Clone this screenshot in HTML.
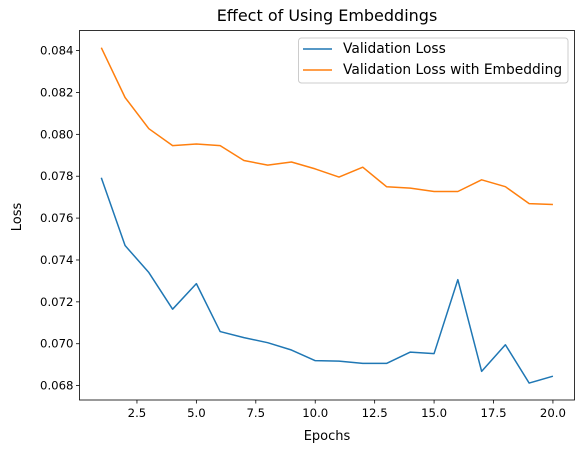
<!DOCTYPE html>
<html><head><meta charset="utf-8"><style>
body{margin:0;background:#fff;font-family:"Liberation Sans","DejaVu Sans",sans-serif}
svg text{font-family:"DejaVu Sans","Liberation Sans",sans-serif}
</style></head><body>
<svg id="chart" width="585" height="453" xmlns="http://www.w3.org/2000/svg">
<rect width="585" height="453" fill="#fff"/>
<text x="327" y="21" text-anchor="middle" font-size="16">Effect of Using Embeddings</text>
<g id="axes"></g>
<g id="series"></g>
<g>
<rect x="298.5" y="38" width="269.5" height="45" rx="3" fill="#fff" stroke="#ccc"/>
<line x1="303" y1="49" x2="332" y2="49" stroke="#1f77b4" stroke-width="1.5"/>
<text x="343" y="53" font-size="13.8">Validation Loss</text>
<line x1="303" y1="70" x2="332" y2="70" stroke="#ff7f0e" stroke-width="1.5"/>
<text x="343" y="74" font-size="13.8">Validation Loss with Embedding</text>
</g>
</svg>
<script>
const epochs=[1,2,3,4,5,6,7,8,9,10,11,12,13,14,15,16,17,18,19,20];
const valLoss=[0.07793,0.07469,0.0734,0.07165,0.07287,0.07058,0.07029,0.07005,0.0697,0.06919,0.06917,0.06906,0.06906,0.0696,0.06953,0.07306,0.06868,0.06995,0.06812,0.06845];
const valLossEmb=[0.08414,0.08176,0.08027,0.07946,0.07954,0.07946,0.07875,0.07853,0.07868,0.07835,0.07796,0.07843,0.0775,0.07743,0.07727,0.07727,0.07783,0.0775,0.07669,0.07665];
const xTicks=[2.5,5.0,7.5,10.0,12.5,15.0,17.5,20.0];
const yTicks=[0.068,0.070,0.072,0.074,0.076,0.078,0.080,0.082,0.084];
const L=79.5,R=574.5,T=30.5,B=400;
const xs=v=>101.3+(v-1)*23.77;
const ys=v=>385.6-(v-0.068)*(335/0.016);
const NS="http://www.w3.org/2000/svg";
const ax=document.getElementById('axes'),sg=document.getElementById('series');
function mk(tag,attrs,parent){const e=document.createElementNS(NS,tag);for(const k in attrs)e.setAttribute(k,attrs[k]);parent.appendChild(e);return e;}
const frame=mk('rect',{x:L,y:T,width:R-L,height:B-T,fill:'none',stroke:'#000','stroke-width':0.8},ax);


xTicks.forEach(v=>{const x=xs(v);
const t=mk('line',{x1:x,y1:B,x2:x,y2:B+3.5,stroke:'#000','stroke-width':0.8},ax);


const l=mk('text',{x:x,y:B+17,'text-anchor':'middle','font-size':11.7},ax);l.textContent=v.toFixed(1);

});
yTicks.forEach(v=>{const y=ys(v);
const t=mk('line',{x1:L-3.5,y1:y,x2:L,y2:y,stroke:'#000','stroke-width':0.8},ax);


const l=mk('text',{x:L-6,y:y+4,'text-anchor':'end','font-size':11.7},ax);l.textContent=v.toFixed(3);

});
const xl=mk('text',{x:327,y:440,'text-anchor':'middle','font-size':13},ax);xl.textContent='Epochs';


const yl=mk('text',{x:0,y:0,'text-anchor':'middle','font-size':13,transform:'translate(21,217) rotate(-90)'},ax);yl.textContent='Loss';


function line(data,color,name){const p=mk('polyline',{points:data.map((v,i)=>xs(epochs[i])+','+ys(v)).join(' '),fill:'none',stroke:color,'stroke-width':1.5,'stroke-linejoin':'round'},sg);

}
line(valLoss,'#1f77b4','validation-loss-line');
line(valLossEmb,'#ff7f0e','validation-loss-embedding-line');
</script>
</body></html>
